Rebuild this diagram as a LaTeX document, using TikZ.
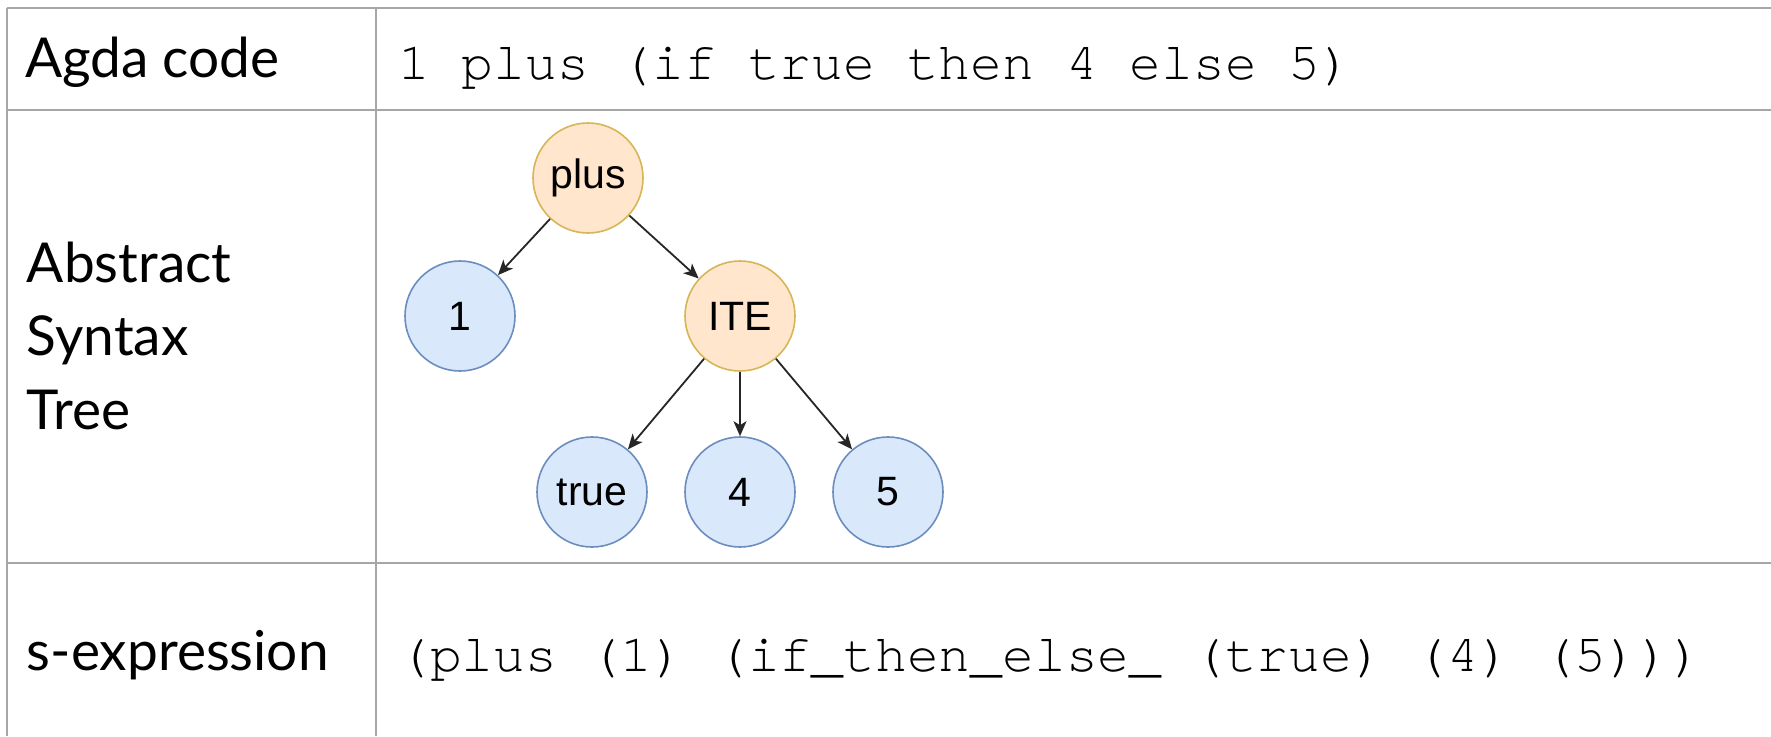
\documentclass[tikz,border=0pt]{standalone}
\usepackage{fontspec}
\setmainfont{Lato}
\newfontfamily\monofont{texgyrecursor-regular.otf}
\newfontfamily\arialfont{Liberation Sans}
\usetikzlibrary{arrows.meta}
\definecolor{gridgray}{HTML}{A6A6A6}
\definecolor{orfill}{HTML}{FFE6CC}
\definecolor{ordraw}{HTML}{D6B656}
\definecolor{blfill}{HTML}{DAE8FC}
\definecolor{bldraw}{HTML}{6C8EBF}
\tikzset{
  gridline/.style={draw=gridgray, line width=2.4pt},
  label/.style={anchor=base west, inner sep=0pt, font=\fontsize{55}{65}\selectfont},
  code/.style={anchor=base west, inner sep=0pt, font=\monofont\fontsize{53}{62}\selectfont},
  treenode/.style={circle, minimum size=110pt, inner sep=0pt, line width=1.6pt, font=\arialfont\fontsize{41}{48}\selectfont},
  opnode/.style={treenode, fill=orfill, draw=ordraw},
  leafnode/.style={treenode, fill=blfill, draw=bldraw},
  edge/.style={-{Stealth[length=15pt,width=13pt,inset=4pt]}, line width=1.8pt, draw=black!85},
}
\begin{document}
\begin{tikzpicture}[x=1pt,y=-1pt]
\useasboundingbox (0,0) rectangle (1771,736);
\fill[white] (0,0) rectangle (1771,736);
% table grid
\coordinate (tl) at (6.7,8);
\coordinate (tr) at (1771,8);
\coordinate (r1l) at (6.7,110);
\coordinate (r1r) at (1771,110);
\coordinate (r2l) at (6.7,563);
\coordinate (r2r) at (1771,563);
\coordinate (bl) at (6.7,736);
\coordinate (ct) at (376,8);
\coordinate (cb) at (376,736);
\draw[gridline] (tl) -- (tr);
\draw[gridline] (r1l) -- (r1r);
\draw[gridline] (r2l) -- (r2r);
\draw[gridline] (tl) -- (bl);
\draw[gridline] (ct) -- (cb);
% labels
\node[label] (agda) at (25,77.3) {Agda code};
\node[label] (ast1) at (26.7,282.7) {Abstract};
\node[label] (ast2) at (26.7,355.5) {Syntax};
\node[label] (ast3) at (26.7,429.3) {Tree};
\node[label] (sexp) at (26.7,670.7) {s-expression};
% code
\node[code] (agdacode) at (398,79.3) {1 plus (if true then 4 else 5)};
\node[code] (sexpcode) at (398,671) {(plus (1) (if\_then\_else\_ (true) (4) (5)))};
% tree
\node[opnode] (plus) at (588,178) {plus};
\node[leafnode] (one) at (460,316) {1};
\node[opnode] (ite) at (740,316) {ITE};
\node[leafnode] (true) at (592,492) {true};
\node[leafnode] (four) at (740,492) {4};
\node[leafnode] (five) at (888,492) {5};
\draw[edge] (plus) -- (one);
\draw[edge] (plus) -- (ite);
\draw[edge] (ite) -- (true);
\draw[edge] (ite) -- (four);
\draw[edge] (ite) -- (five);
\end{tikzpicture}
\end{document}
